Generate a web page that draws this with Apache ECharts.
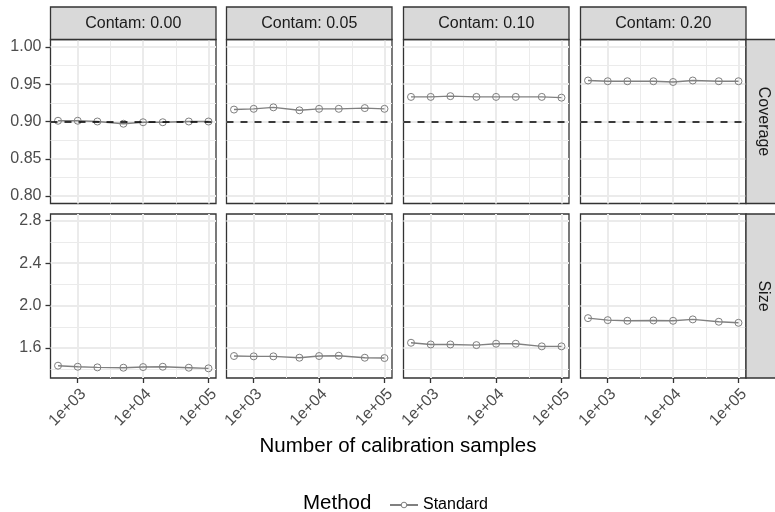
<!DOCTYPE html>
<html><head><meta charset="utf-8">
<script src="https://cdn.jsdelivr.net/npm/echarts@6/dist/echarts.min.js"></script>
<style>html,body{margin:0;padding:0;background:#fff}#c{width:775px;height:512px}</style>
</head><body><div id="c"></div>
<script>
// ---------- data ----------
const nSamples = [500, 1000, 2000, 5000, 10000, 20000, 50000, 100000];
const contamLevels = ['Contam: 0.00', 'Contam: 0.05', 'Contam: 0.10', 'Contam: 0.20'];
const metricNames = ['Coverage', 'Size'];
const methodName = 'Standard';
const coverage00 = [0.901, 0.901, 0.900, 0.897, 0.899, 0.899, 0.900, 0.900];
const coverage05 = [0.916, 0.917, 0.919, 0.915, 0.917, 0.917, 0.918, 0.917];
const coverage10 = [0.933, 0.933, 0.934, 0.933, 0.933, 0.933, 0.933, 0.932];
const coverage20 = [0.955, 0.954, 0.954, 0.954, 0.953, 0.955, 0.954, 0.954];
const size00 = [1.434, 1.424, 1.418, 1.415, 1.421, 1.424, 1.415, 1.409];
const size05 = [1.525, 1.522, 1.522, 1.509, 1.525, 1.528, 1.509, 1.506];
const size10 = [1.650, 1.634, 1.634, 1.628, 1.641, 1.641, 1.616, 1.616];
const size20 = [1.882, 1.863, 1.857, 1.860, 1.857, 1.870, 1.848, 1.838];
const targetCoverage = 0.9;
const xTicks = [1000, 10000, 100000];
const xTickLabels = ['1e+03', '1e+04', '1e+05'];
const xMinorTicks = [Math.pow(10, 3.5), Math.pow(10, 4.5)];
const covTicks = [0.80, 0.85, 0.90, 0.95, 1.00];
const covMinor = [0.825, 0.875, 0.925, 0.975];
const sizeTicks = [1.6, 2.0, 2.4, 2.8];
const sizeMinor = [1.4, 1.8, 2.2, 2.6];

// ---------- layout ----------
const FONT = '"Liberation Sans", Arial, Helvetica, sans-serif';
const panelLefts = [50.5, 226.5, 403.5, 580.5];
const panelW = 165.5;
const rowTops = [39.5, 214];
const panelH = 164;
const xMin = Math.pow(10, 2.58392), xMax = Math.pow(10, 5.11505);
const yRanges = [[0.79, 1.01], [1.318, 2.863]];
const rowData = [[coverage00, coverage05, coverage10, coverage20], [size00, size05, size10, size20]];
const rowTicks = [covTicks, sizeTicks], rowMinor = [covMinor, sizeMinor], rowDec = [2, 1];

const grids = [], xAxes = [], yAxes = [], series = [], graphics = [];
const gridLine = '#EBEBEB';
for (let r = 0; r < 2; r++) {
  for (let c = 0; c < 4; c++) {
    const p = grids.length;
    grids.push({left: panelLefts[c], top: rowTops[r], width: panelW, height: panelH,
      show: true, borderColor: '#333333', borderWidth: 1.3, backgroundColor: 'transparent', containLabel: false});
    xAxes.push({type: 'log', logBase: 10, gridIndex: p, min: xMin, max: xMax, position: 'top',
      axisLine: {show: false}, axisTick: {show: false, customValues: xMinorTicks},
      axisLabel: {show: false, customValues: xMinorTicks}, splitLine: {show: true, lineStyle: {color: gridLine, width: 1}}});
    const xi = xAxes.length;
    xAxes.push({type: 'log', logBase: 10, gridIndex: p, min: xMin, max: xMax, position: 'bottom',
      axisLine: {show: false},
      axisTick: {show: r === 1, customValues: xTicks, length: 5, lineStyle: {color: '#333333', width: 1.3}},
      axisLabel: {show: r === 1, customValues: xTicks, rotate: 45, margin: 8, verticalAlign: 'top',
        color: '#4D4D4D', fontSize: 16, fontFamily: FONT,
        formatter: v => { let best = 0; xTicks.forEach((t, i) => { if (Math.abs(Math.log10(t) - Math.log10(v)) < Math.abs(Math.log10(xTicks[best]) - Math.log10(v))) best = i; }); return xTickLabels[best]; }},
      splitLine: {show: true, lineStyle: {color: gridLine, width: 2}}});
    yAxes.push({type: 'value', gridIndex: p, min: yRanges[r][0], max: yRanges[r][1], position: 'right',
      axisLine: {show: false}, axisTick: {show: false, customValues: rowMinor[r]},
      axisLabel: {show: false, customValues: rowMinor[r]}, splitLine: {show: true, lineStyle: {color: gridLine, width: 1}}});
    const yi = yAxes.length;
    yAxes.push({type: 'value', gridIndex: p, min: yRanges[r][0], max: yRanges[r][1], position: 'left',
      axisLine: {show: false},
      axisTick: {show: c === 0, customValues: rowTicks[r], length: 5, lineStyle: {color: '#333333', width: 1.3}},
      axisLabel: {show: c === 0, customValues: rowTicks[r], margin: 9, color: '#4D4D4D', fontSize: 16, fontFamily: FONT,
        formatter: v => v.toFixed(rowDec[r])},
      splitLine: {show: true, lineStyle: {color: gridLine, width: 2}}});
    const s = {type: 'line', name: methodName, xAxisIndex: xi, yAxisIndex: yi,
      data: nSamples.map((n, i) => [n, rowData[r][c][i]]),
      symbol: 'circle', symbolSize: 7, showSymbol: true, silent: true,
      lineStyle: {color: '#808080', width: 1.4},
      itemStyle: {color: 'rgba(255,255,255,0)', borderColor: '#808080', borderWidth: 1},
      emphasis: {disabled: true}, z: 3};
    if (r === 0) {
      s.markLine = {silent: true, symbol: ['none', 'none'], label: {show: false},
        lineStyle: {color: '#000', type: [7, 7], width: 1.7}, data: [{yAxis: targetCoverage}], animation: false};
    }
    series.push(s);
  }
}
// strips
for (let c = 0; c < 4; c++) {
  graphics.push({type: 'rect', shape: {x: panelLefts[c], y: 7, width: panelW, height: 32.5},
    style: {fill: '#D9D9D9', stroke: '#333333', lineWidth: 1.3}, z: 10});
  graphics.push({type: 'text', x: panelLefts[c] + panelW / 2, y: 24,
    style: {text: contamLevels[c], align: 'center', verticalAlign: 'middle', fill: '#1A1A1A', fontSize: 16, fontFamily: FONT}, z: 11});
}
for (let r = 0; r < 2; r++) {
  graphics.push({type: 'rect', shape: {x: 746, y: rowTops[r], width: 33, height: panelH},
    style: {fill: '#D9D9D9', stroke: '#333333', lineWidth: 1.3}, z: 10});
  graphics.push({type: 'text', x: 763, y: rowTops[r] + panelH / 2, rotation: -Math.PI / 2,
    style: {text: metricNames[r], align: 'center', verticalAlign: 'middle', fill: '#1A1A1A', fontSize: 16, fontFamily: FONT}, z: 11});
}
graphics.push({type: 'text', x: 398, y: 446,
  style: {text: 'Number of calibration samples', align: 'center', verticalAlign: 'middle', fill: '#000', fontSize: 20.5, fontFamily: FONT}});
graphics.push({type: 'text', x: 303, y: 503,
  style: {text: 'Method', align: 'left', verticalAlign: 'middle', fill: '#000', fontSize: 20.5, fontFamily: FONT}});

const chart = echarts.init(document.getElementById('c'), null, {renderer: 'canvas'});
chart.setOption({
  animation: false,
  backgroundColor: '#fff',
  grid: grids, xAxis: xAxes, yAxis: yAxes, series: series,
  legend: {data: [methodName], left: 384, top: 492, itemWidth: 28, itemHeight: 7, itemGap: 10,
    itemStyle: {color: '#ffffff', borderColor: '#808080', borderWidth: 1},
    textStyle: {color: '#000', fontSize: 16, fontFamily: FONT}, selectedMode: false},
  graphic: graphics
});
</script></body></html>
